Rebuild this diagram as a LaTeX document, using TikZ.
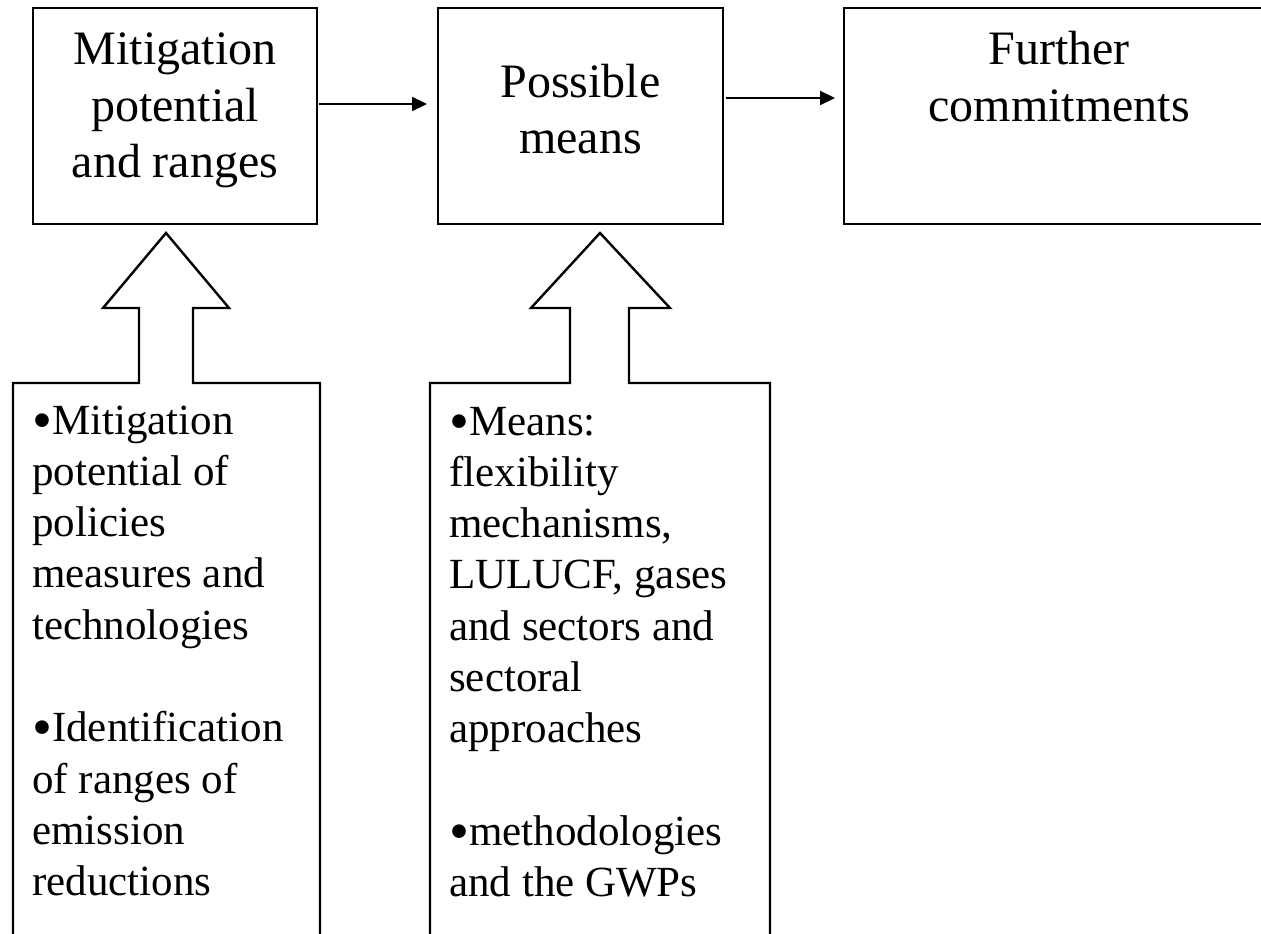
\documentclass[tikz,border=0pt]{standalone}
\usepackage{fontspec}
\setmainfont{Liberation Serif}
\usetikzlibrary{arrows.meta}
\newcommand\mybul{\raisebox{-5pt}{\fontsize{57}{51.3}\selectfont •}}
\begin{document}
\begin{tikzpicture}[x=1pt,y=-1pt,line join=miter,
  boxst/.style={draw,line width=2.5pt,inner sep=0pt,outer sep=0pt},
  conn/.style={line width=2.2pt,-{Triangle[length=15pt,width=14pt]}},
  blockst/.style={draw,line width=2.4pt},
  toptext/.style={inner sep=0pt,anchor=base,font=\fontsize{48}{56.5}\selectfont},
  bottext/.style={inner sep=0pt,anchor=base west,font=\fontsize{43}{51.3}\selectfont}]
\useasboundingbox (0,0) rectangle (1261,934);
\fill[white] (0,0) rectangle (1261,934);

% top boxes
\node[boxst,minimum width=284pt,minimum height=216pt] (b1) at (175,116) {};
\node[boxst,minimum width=285pt,minimum height=216pt] (b2) at (580.5,116) {};
\node[boxst,minimum width=430pt,minimum height=216pt] (b3) at (1059,116) {};

% top texts
\node[toptext] (t1) at (175,65) {\parbox[t]{280pt}{\centering Mitigation\\potential\\and ranges}};
\node[toptext] (t2) at (580.5,97) {\parbox[t]{280pt}{\centering Possible\\means}};
\node[toptext] (t3) at (1059,65) {\parbox[t]{400pt}{\centering Further\\commitments}};

% connectors
\draw[conn,shorten <=2pt,shorten >=11pt] ([yshift=12pt]b1.east) -- ([yshift=12pt]b2.west);
\draw[conn,shorten <=3pt,shorten >=9pt] ([yshift=18pt]b2.east) -- ([yshift=18pt]b3.west);

% bottom boxes with block arrows
\coordinate (tip1) at (166,233);
\coordinate (tip2) at (600,233);
\draw[blockst] (13,960) -- (13,383) -- (139,383) -- (139,308) -- (103,308) -- (tip1)
  -- (229,308) -- (193,308) -- (193,383) -- (320,383) -- (320,960);
\draw[blockst] (430,960) -- (430,383) -- (570,383) -- (570,308) -- (531,308) -- (tip2)
  -- (670,308) -- (629,308) -- (629,383) -- (770,383) -- (770,960);

% bottom texts
\node[bottext] (l1) at (32,434) {\parbox[t]{285pt}{\raggedright
  \mybul Mitigation\\potential of\\policies\\measures and\\technologies\\[\baselineskip]%
  \mybul Identification\\of ranges of\\emission\\reductions}};
\node[bottext] (l2) at (449,435) {\parbox[t]{318pt}{\raggedright
  \mybul Means:\\flexibility\\mechanisms,\\LULUCF, gases\\and sectors and\\sectoral\\approaches\\[\baselineskip]%
  \mybul methodologies\\and the GWPs}};
\end{tikzpicture}
\end{document}
